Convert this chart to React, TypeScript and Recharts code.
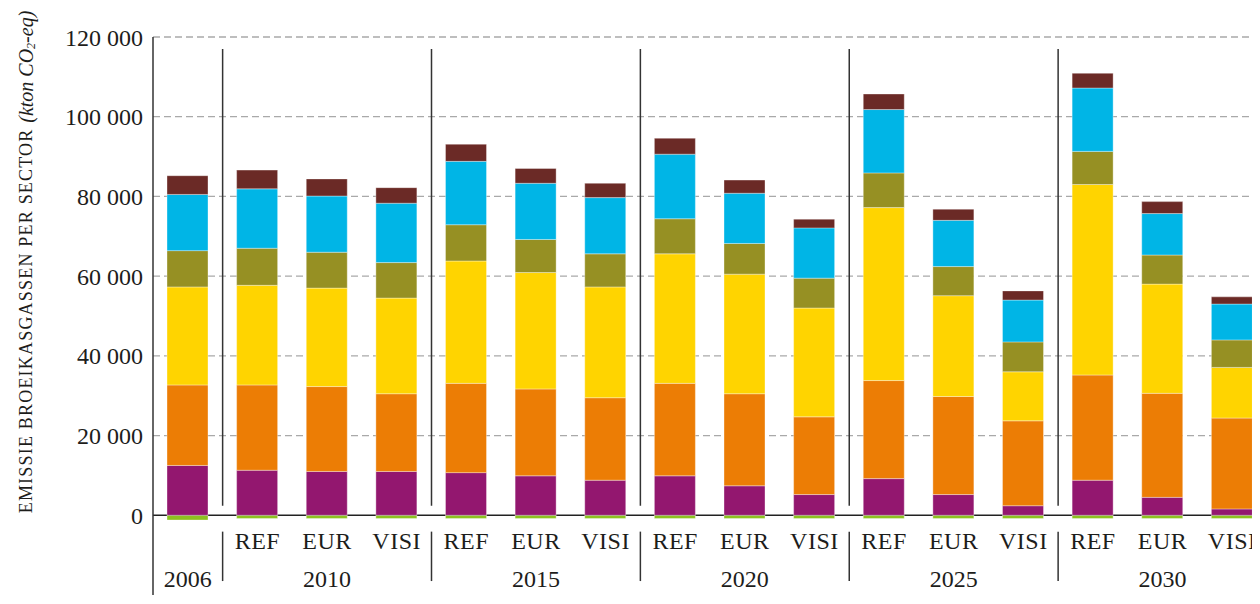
import { Bar, BarChart, CartesianGrid, ReferenceLine, XAxis, YAxis } from "recharts";

// category rows: scenario (upper row) and year (lower row, shown once per group)
const scenarios = ["", "REF", "EUR", "VISI", "REF", "EUR", "VISI", "REF", "EUR", "VISI", "REF", "EUR", "VISI", "REF", "EUR", "VISI"];
const yearLabels = ["2006", "", "2010", "", "", "2015", "", "", "2020", "", "", "2025", "", "", "2030", ""];
// a separator is drawn before each of these categories
const groupStarts = [1, 4, 7, 10, 13];

// emissions per sector, kton CO2-eq
const green = [-1200, -800, -800, -800, -800, -800, -800, -800, -800, -800, -800, -800, -800, -800, -800, -800];
const purple = [12500, 11300, 11000, 11000, 10700, 9900, 8800, 9900, 7400, 5200, 9200, 5200, 2400, 8800, 4500, 1600];
const orange = [20200, 21400, 21300, 19500, 22400, 21800, 20700, 23200, 23100, 19500, 24600, 24600, 21300, 26400, 26100, 22800];
const yellow = [24600, 25000, 24700, 24000, 30700, 29200, 27800, 32500, 30000, 27300, 43400, 25300, 12300, 47800, 27400, 12700];
const olive = [9100, 9300, 9000, 8900, 9100, 8300, 8300, 8800, 7700, 7500, 8700, 7300, 7500, 8300, 7300, 6900];
const cyan = [14100, 14900, 14100, 14900, 15900, 14100, 14100, 16200, 12600, 12600, 15900, 11600, 10500, 15900, 10400, 9000];
const brown = [4700, 4700, 4300, 3900, 4300, 3700, 3600, 4000, 3300, 2200, 3900, 2800, 2300, 3700, 3000, 1800];

const yTicks = [-20000, 0, 20000, 40000, 60000, 80000, 100000, 120000];

const series = [
  { key: "green", values: green, color: "#8dc21f" },
  { key: "purple", values: purple, color: "#93176f" },
  { key: "orange", values: orange, color: "#ec7d05" },
  { key: "yellow", values: yellow, color: "#ffd400" },
  { key: "olive", values: olive, color: "#969023" },
  { key: "cyan", values: cyan, color: "#00b5e6" },
  { key: "brown", values: brown, color: "#6b2a26" },
];

const keys = scenarios.map((s, i) => `${i}-${s}`);

const data = keys.map((k, i) => {
  const row: { [k: string]: string | number } = { key: k };
  series.forEach((sr) => {
    row[sr.key] = sr.values[i];
  });
  return row;
});

const FONT = "'Liberation Serif', 'Times New Roman', serif";
const TEXT = "#1d1d1b";

const fmt = (v: number) => {
  const abs = Math.abs(v);
  const s = abs >= 1000 ? `${Math.floor(abs / 1000)} ${String(abs % 1000).padStart(3, "0")}` : String(abs);
  return (v < 0 ? "-" : "") + s;
};

const CategoryTick = (props: any) => {
  const { x, y, payload } = props;
  const i = payload.index;
  return (
    <g>
      {scenarios[i] && (
        <text x={x} y={y - 46} textAnchor="middle" fontSize={24} letterSpacing={0.5} fill={TEXT} fontFamily={FONT}>
          {scenarios[i]}
        </text>
      )}
      {yearLabels[i] && (
        <text x={x} y={y - 8} textAnchor="middle" fontSize={24} fill={TEXT} fontFamily={FONT}>
          {yearLabels[i]}
        </text>
      )}
    </g>
  );
};

const YTitle = (props: any) => {
  const vb = props.viewBox || { x: 0, y: 29 };
  const cx = vb.x + 18;
  const cy = vb.y + 225;
  return (
    <text
      x={cx}
      y={cy}
      transform={`rotate(-90, ${cx}, ${cy})`}
      textAnchor="middle"
      dominantBaseline="central"
      fill={TEXT}
      fontFamily={FONT}
    >
      <tspan fontSize={18} letterSpacing={1.2}>EMISSIE BROEIKASGASSEN PER SECTOR </tspan>
      <tspan fontStyle="italic" fontSize={20}>(kton CO</tspan>
      <tspan fontStyle="italic" fontSize={12} dy={5}>2</tspan>
      <tspan fontStyle="italic" fontSize={20} dy={-5}>-eq)</tspan>
    </text>
  );
};

export default function App() {
  return (
    <div style={{ width: 1252, overflow: "hidden" }}>
      <BarChart
        width={1259}
        height={588}
        data={data}
        stackOffset="sign"
        barSize={41}
        margin={{ top: 29, right: 0, bottom: 0, left: 0 }}
        style={{ fontFamily: FONT }}
      >
        <CartesianGrid
          vertical={false}
          horizontalValues={[-20000, 20000, 40000, 60000, 80000, 100000, 120000]}
          stroke="#a9a9a9"
          strokeDasharray="7 4"
          strokeWidth={1.3}
        />
        <CartesianGrid vertical={false} horizontalValues={[0]} stroke="#222" strokeWidth={1.5} />
        <XAxis
          dataKey="key"
          height={1}
          axisLine={false}
          tickLine={false}
          tickSize={0}
          tickMargin={0}
          interval={0}
          tick={<CategoryTick />}
        />
        <YAxis
          width={145}
          domain={[-20000, 120000]}
          ticks={yTicks}
          allowDataOverflow
          tickFormatter={fmt}
          tickLine={false}
          tickMargin={4}
          axisLine={{ stroke: "#333", strokeWidth: 1.5 }}
          tick={{ fontSize: 24, fill: TEXT, fontFamily: FONT }}
          label={<YTitle />}
        />
        {series.map((s) => (
          <Bar
            key={s.key}
            dataKey={s.key}
            stackId="a"
            fill={s.color}
            stroke="#ffffff"
            strokeOpacity={0.35}
            strokeWidth={1}
            isAnimationActive={false}
          />
        ))}
        {groupStarts.map((b) => (
          <ReferenceLine
            key={`u${b}`}
            position="start"
            segment={[
              { x: keys[b], y: 117000 },
              { x: keys[b], y: 2400 },
            ]}
            stroke="#333"
            strokeWidth={1.5}
          />
        ))}
        {groupStarts.map((b) => (
          <ReferenceLine
            key={`l${b}`}
            position="start"
            segment={[
              { x: keys[b], y: -4100 },
              { x: keys[b], y: -16500 },
            ]}
            stroke="#333"
            strokeWidth={1.5}
          />
        ))}
      </BarChart>
    </div>
  );
}
